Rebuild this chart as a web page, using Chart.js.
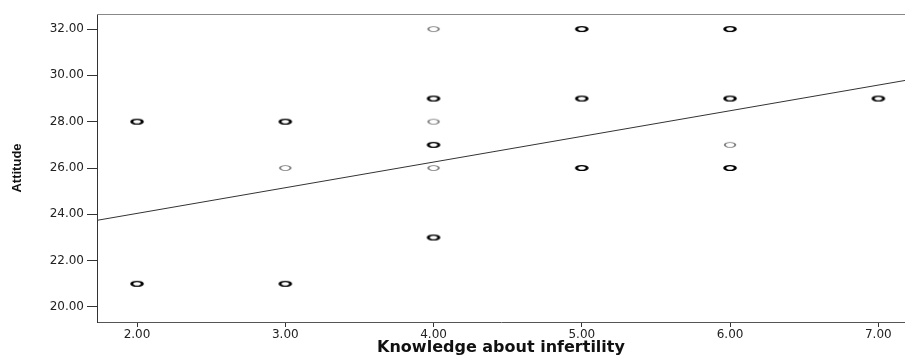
<!DOCTYPE html>
<html>
<head>
<meta charset="utf-8">
<script src="https://cdn.jsdelivr.net/npm/chart.js@4/dist/chart.umd.min.js"></script>
<style>
  html, body { margin: 0; padding: 0; background: #fff; overflow: hidden; }
  #wrap { width: 905px; height: 356px; }
  #scatter { display: block; }
</style>
</head>
<body>
<div id="wrap"><canvas id="scatter"></canvas></div>
<script>
// bold marks = several cases at that point, thin grey marks = a single case
const multiX = [2, 2, 3, 3, 4, 4, 4, 5, 5, 5, 6, 6, 6, 7];
const multiY = [28, 21, 28, 21, 29, 27, 23, 32, 29, 26, 32, 29, 26, 29];
const singleX = [3, 4, 4, 4, 6];
const singleY = [26, 32, 28, 26, 27];

// fit line at both edges of the plot
const fitX = [1.73, 7.18];
const fitY = [23.74, 29.78];

const xTicks = [2, 3, 4, 5, 6, 7];
const yTicks = [20, 22, 24, 26, 28, 30, 32];

const toPoints = (xs, ys) => xs.map((x, i) => ({ x: x, y: ys[i] }));

// little flattened open circles like the SPSS marker
function makeMark(color, width) {
  const c = document.createElement('canvas');
  c.width = 16; c.height = 8;
  const g = c.getContext('2d');
  g.translate(8, 4);
  g.scale(2.2, 1);
  g.beginPath();
  g.arc(0, 0, 2.4, 0, Math.PI * 2);
  g.lineWidth = width;
  g.strokeStyle = color;
  g.stroke();
  return c;
}

const frame = {
  id: 'frame',
  afterDraw(chart) {
    const { ctx, chartArea: a } = chart;
    ctx.save();
    ctx.strokeStyle = '#888';
    ctx.lineWidth = 1;
    ctx.beginPath();
    ctx.moveTo(a.left, a.top + 0.5);
    ctx.lineTo(a.right, a.top + 0.5);
    ctx.stroke();
    ctx.restore();
  }
};

const tickFont = { family: 'DejaVu Sans', size: 12 };

new Chart(document.getElementById('scatter'), {
  type: 'scatter',
  data: {
    datasets: [
      {
        data: toPoints(fitX, fitY),
        showLine: true,
        borderColor: '#333',
        borderWidth: 1,
        pointRadius: 0,
        fill: false
      },
      {
        data: toPoints(singleX, singleY),
        pointStyle: makeMark('#7a7a7a', 0.9)
      },
      {
        data: toPoints(multiX, multiY),
        pointStyle: makeMark('#000', 1.4)
      }
    ]
  },
  options: {
    responsive: true,
    maintainAspectRatio: false,
    animation: false,
    layout: { autoPadding: false, padding: { top: 14, right: 0, left: 0, bottom: 0 } },
    scales: {
      x: {
        type: 'linear',
        min: 1.73,
        max: 7.18,
        afterBuildTicks: s => { s.ticks = xTicks.map(v => ({ value: v })); },
        afterFit: s => { s.height = 34; s.paddingRight = 0; s.paddingLeft = 0; },
        grid: { drawOnChartArea: false, tickLength: 5, tickColor: '#333' },
        border: { color: '#555' },
        ticks: {
          color: '#222',
          font: tickFont,
          padding: 1,
          maxRotation: 0,
          callback: v => v.toFixed(2)
        },
        title: {
          display: true,
          text: 'Knowledge about infertility',
          color: '#111',
          font: { family: 'DejaVu Sans', size: 16, weight: 'bold', lineHeight: 1 },
          padding: { top: 0, bottom: 0 }
        }
      },
      y: {
        type: 'linear',
        min: 19.35,
        max: 32.65,
        afterBuildTicks: s => { s.ticks = yTicks.map(v => ({ value: v })); },
        afterFit: s => { s.width = 97; },
        grid: { drawOnChartArea: false, tickLength: 10, tickColor: '#333' },
        border: { color: '#333' },
        ticks: {
          color: '#222',
          font: tickFont,
          padding: 3,
          callback: v => v.toFixed(2)
        },
        title: {
          display: true,
          text: 'Attitude',
          color: '#111',
          font: { family: "'Liberation Sans Narrow', 'Liberation Sans', sans-serif", size: 13, weight: 'bold', lineHeight: 1.2 },
          padding: { top: 10, bottom: 0 }
        }
      }
    },
    plugins: {
      legend: { display: false },
      tooltip: { enabled: false }
    }
  },
  plugins: [frame]
});
</script>
</body>
</html>
